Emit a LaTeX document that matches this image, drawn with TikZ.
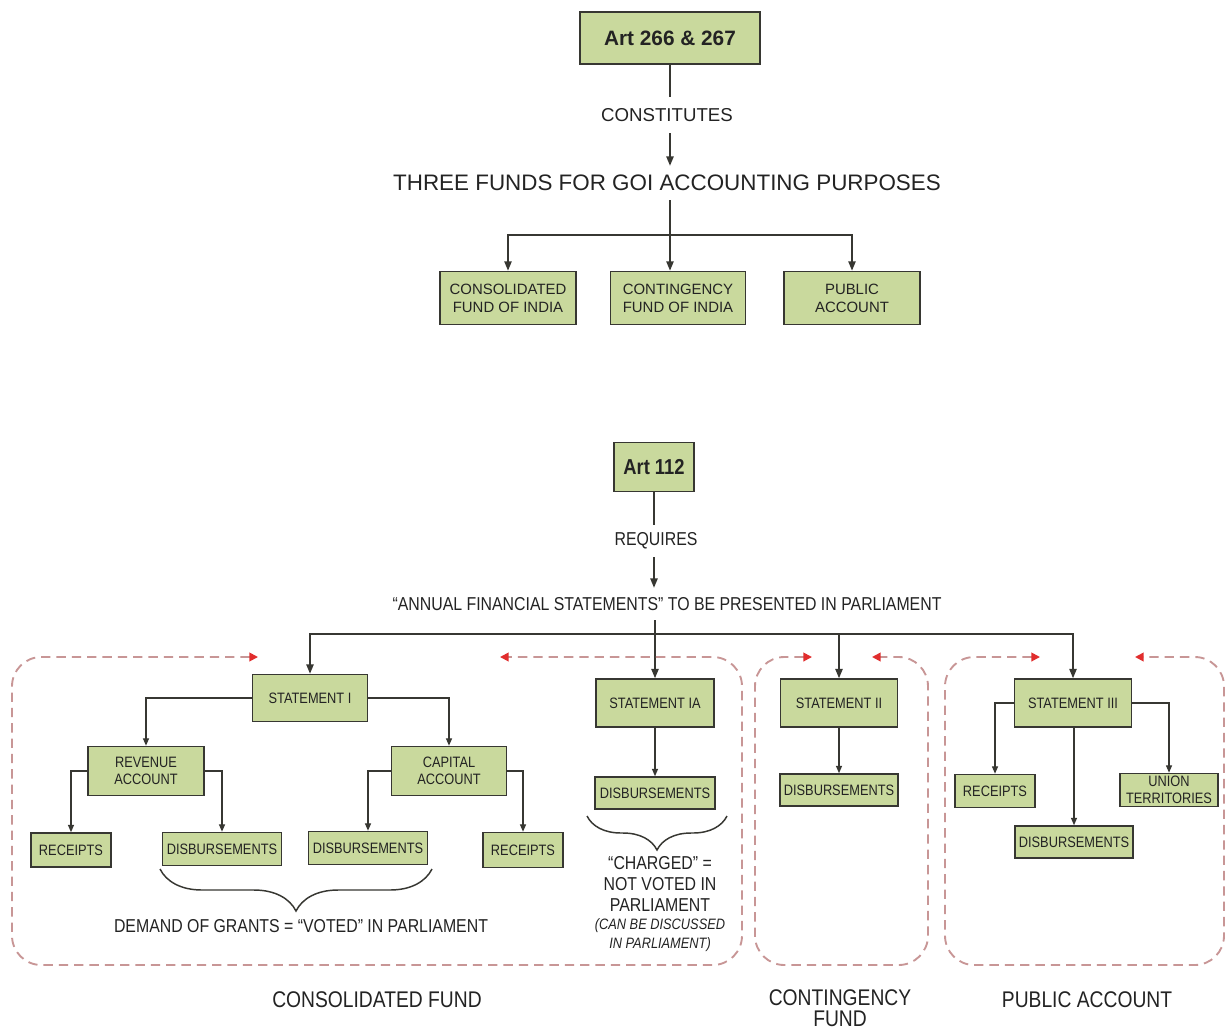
\documentclass[tikz,border=0pt]{standalone}
\usepackage{fontspec}
\setmainfont{Liberation Sans}
\newfontfamily\narrowfont[FakeStretch=0.85]{Liberation Sans}
\usetikzlibrary{arrows.meta,decorations.pathreplacing,calc}
\definecolor{boxgreen}{RGB}{201,217,157}
\definecolor{boxline}{RGB}{55,55,50}
\definecolor{dashpink}{RGB}{200,150,150}
\definecolor{tipred}{RGB}{225,45,45}
\definecolor{txt}{RGB}{35,35,35}
\newcommand\fArtTop{\fontsize{15.6}{18}\selectfont\bfseries}
\newcommand\fLabTop{\fontsize{14}{16}\selectfont}
\newcommand\fBigTop{\fontsize{16.8}{19}\selectfont}
\newcommand\fBoxTop{\fontsize{11.2}{13.5}\selectfont}
\newcommand\fArtLow{\narrowfont\fontsize{16.2}{18}\selectfont\bfseries}
\newcommand\fLabLow{\narrowfont\fontsize{14}{15.8}\selectfont}
\newcommand\fBoxLow{\narrowfont\fontsize{11.3}{12.6}\selectfont}
\newcommand\fNoteLow{\narrowfont\fontsize{11.3}{14.2}\selectfont\itshape}
\newcommand\fFundLow{\narrowfont\fontsize{17}{16}\selectfont}
\begin{document}
\begin{tikzpicture}[x=0.75pt,y=-0.75pt,
  sz/.style n args={2}{minimum width=#1*0.75pt,minimum height=#2*0.75pt},
  box/.style={draw=boxline,line width=1.3pt,fill=boxgreen,inner sep=0pt,align=center,text=txt},
  topbox/.style={box,font=\fBoxTop},
  lowbox/.style={box,font=\fBoxLow,line width=1.2pt},
  label/.style={inner sep=0pt,align=center,text=txt},
  conn/.style={draw=boxline,line width=1.1pt,-{Triangle[length=7pt,width=5.5pt]}},
  plain/.style={draw=boxline,line width=1.1pt},
  lconn/.style={draw=boxline,line width=0.9pt,-{Triangle[length=5.5pt,width=4.5pt]}},
  brc/.style={draw=boxline,line width=1.1pt,decorate,decoration={brace,mirror,amplitude=#1*0.75pt,aspect=0.5}},
  dbox/.style={draw=dashpink,line width=1.4pt,dash pattern=on 7pt off 4.5pt,rounded corners=22pt,
    {Triangle[color=tipred,length=6.5pt,width=6.5pt]}-{Triangle[color=tipred,length=6.5pt,width=6.5pt]}}
]
\useasboundingbox[fill=white] (0,0) rectangle (1227,1032);

% ---------- top part ----------
\node[box,sz={180}{52},font=\fArtTop] (art266) at (670,38) {Art 266 \& 267};
\node[label,font=\fLabTop,sz={140}{36}] (cons) at (667,115) {CONSTITUTES};
\node[label,font=\fBigTop,sz={560}{34}] (three) at (667,183) {THREE FUNDS FOR GOI ACCOUNTING PURPOSES};
\node[topbox,sz={136}{53}] (cfi) at (508,298) {CONSOLIDATED\\FUND OF INDIA};
\node[topbox,sz={135}{53}] (cont) at (678,298) {CONTINGENCY\\FUND OF INDIA};
\node[topbox,sz={136}{53}] (pa) at (852,298) {PUBLIC\\ACCOUNT};
\coordinate (j1) at (670,235);

\draw[plain] (art266.south) -- (cons.north -| art266.south);
\draw[conn] (cons.south -| art266.south) -- (three.north -| art266.south);
\draw[conn] (three.south -| art266.south) -- (cont.north -| art266.south);
\draw[conn] (j1) -| (cfi.north);
\draw[conn] (j1) -| (pa.north);

% ---------- lower part ----------
\node[box,sz={80}{49},font=\fArtLow] (art112) at (654,467) {Art 112};
\node[label,font=\fLabLow,sz={90}{32}] (req) at (656,541) {REQUIRES};
\node[label,font=\fLabLow,sz={570}{32}] (afs) at (667,604) {“ANNUAL FINANCIAL STATEMENTS” TO BE PRESENTED IN PARLIAMENT};

\node[lowbox,sz={115}{47}] (st1) at (310,698) {STATEMENT I};
\node[lowbox,sz={116}{49}] (rev) at (146,771) {REVENUE\\ACCOUNT};
\node[lowbox,sz={115}{49}] (cap) at (449,771) {CAPITAL\\ACCOUNT};
\node[lowbox,sz={80}{34}] (rec1) at (71,850) {RECEIPTS};
\node[lowbox,sz={119}{33}] (dis1) at (222,849) {DISBURSEMENTS};
\node[lowbox,sz={119}{33}] (dis2) at (368,848) {DISBURSEMENTS};
\node[lowbox,sz={80}{35}] (rec2) at (523,850) {RECEIPTS};

\node[lowbox,sz={118}{48}] (st1a) at (655,703) {STATEMENT IA};
\node[lowbox,sz={120}{32}] (dis1a) at (655,793) {DISBURSEMENTS};

\node[lowbox,sz={117}{48}] (st2) at (839,703) {STATEMENT II};
\node[lowbox,sz={118}{32}] (dis2b) at (839,790) {DISBURSEMENTS};

\node[lowbox,sz={117}{48}] (st3) at (1073,703) {STATEMENT III};
\node[lowbox,sz={80}{33}] (rec3) at (995,791) {RECEIPTS};
\node[lowbox,sz={98}{33}] (ut) at (1169,790) {UNION\\TERRITORIES};
\node[lowbox,sz={118}{32}] (dis3) at (1074,842) {DISBURSEMENTS};

\coordinate (j2) at (655,634);
\draw[plain] (art112.south) -- (req.north -| art112.south);
\draw[conn] (req.south -| art112.south) -- (afs.north -| art112.south);
\draw[conn] (afs.south -| st1a.north) -- (st1a.north);
\draw[conn] (j2) -| (st1.north);
\draw[conn] (j2) -| (st3.north);
\draw[conn] (j2 -| st2.north) -- (st2.north);

\draw[lconn] (st1.west) -| (rev.north);
\draw[lconn] (st1.east) -| (cap.north);
\draw[lconn] (rev.west) -| (rec1.north);
\draw[lconn] (rev.east) -| (dis1.north);
\draw[lconn] (cap.west) -| (dis2.north);
\draw[lconn] (cap.east) -| (rec2.north);
\draw[lconn] (st1a.south) -- (dis1a.north);
\draw[lconn] (st2.south) -- (dis2b.north);
\draw[lconn] (st3.west) -| (rec3.north);
\draw[lconn] (st3.east) -| (ut.north);
\draw[lconn] (st3.south -| dis3.north) -- (dis3.north);

% braces
\draw[brc=42] (160,869) -- (432,869);
\draw[brc=34] (587,816) -- (727,816);
\node[label,font=\fLabLow] (voted) at (301,926) {DEMAND OF GRANTS = “VOTED” IN PARLIAMENT};
\node[label,font=\fLabLow] (charged) at (660,884) {“CHARGED” =\\NOT VOTED IN\\PARLIAMENT};
\node[label,font=\fNoteLow] (disc) at (660,935) {(CAN BE DISCUSSED\\IN PARLIAMENT)};

% dashed fund groups
\draw[dbox] (258,657) -- (12,657) -- (12,965) -- (742,965) -- (742,657) -- (500,657);
\draw[dbox] (812,657) -- (755,657) -- (755,965) -- (928,965) -- (928,657) -- (872,657);
\draw[dbox] (1040,657) -- (945,657) -- (945,965) -- (1224,965) -- (1224,657) -- (1135,657);

\node[label,font=\fFundLow] (cfl) at (377,1000) {CONSOLIDATED FUND};
\node[label,font=\fFundLow] (cgl) at (840,1008) {CONTINGENCY\\FUND};
\node[label,font=\fFundLow] (pal) at (1087,1000) {PUBLIC ACCOUNT};
\end{tikzpicture}
\end{document}
